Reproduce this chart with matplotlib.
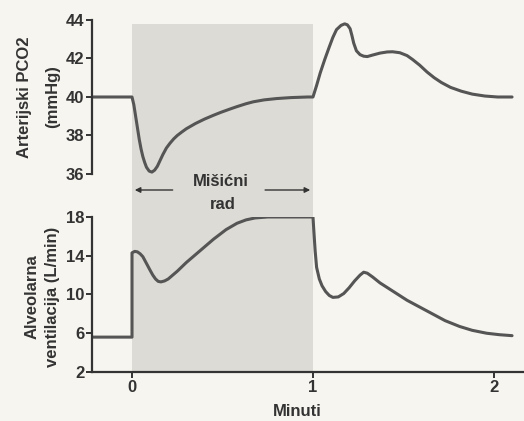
import matplotlib
matplotlib.use('Agg')
import matplotlib.pyplot as plt
from matplotlib import transforms
from matplotlib.patches import Rectangle

# arterial PCO2 (mmHg)
pco2_t = [-0.22, 0.0, 0.01, 0.02, 0.03, 0.04, 0.05, 0.06, 0.07, 0.08, 0.095,
          0.11, 0.125, 0.14, 0.155, 0.17, 0.19, 0.21, 0.23, 0.25, 0.275, 0.30,
          0.35, 0.40, 0.45, 0.49, 0.54, 0.58, 0.63, 0.67, 0.73, 0.80, 0.88,
          0.97, 1.0, 1.02, 1.04, 1.065, 1.09, 1.11, 1.13, 1.155, 1.175, 1.19,
          1.205, 1.215, 1.225, 1.24, 1.26, 1.28, 1.30, 1.33, 1.37, 1.41, 1.44,
          1.48, 1.52, 1.55, 1.59, 1.63, 1.67, 1.71, 1.76, 1.82, 1.88, 1.95,
          2.02, 2.1]
pco2 = [40.0, 40.0, 39.6, 39.0, 38.4, 37.8, 37.3, 36.9, 36.6, 36.35, 36.15,
        36.1, 36.2, 36.4, 36.7, 37.0, 37.35, 37.6, 37.82, 38.0, 38.18, 38.35,
        38.62, 38.85, 39.05, 39.2, 39.37, 39.5, 39.65, 39.75, 39.85, 39.92, 39.97,
        40.0, 40.0, 40.6, 41.25, 41.95, 42.6, 43.1, 43.5, 43.72, 43.8, 43.75,
        43.55, 43.2, 42.8, 42.4, 42.2, 42.12, 42.1, 42.18, 42.28, 42.34, 42.35,
        42.3, 42.15, 41.95, 41.65, 41.3, 41.0, 40.75, 40.5, 40.3, 40.15, 40.05,
        40.0, 40.0]

# alveolar ventilation (L/min)
vent_t = [-0.22, 0.0, 0.0, 0.015, 0.03, 0.045, 0.06, 0.08, 0.10, 0.115, 0.13,
          0.145, 0.16, 0.18, 0.20, 0.25, 0.30, 0.375, 0.45, 0.52, 0.58, 0.63,
          0.68, 0.75, 1.0, 1.005, 1.012, 1.02, 1.035, 1.05, 1.07, 1.09, 1.11,
          1.14, 1.17, 1.20, 1.23, 1.26, 1.28, 1.30, 1.33, 1.37, 1.42, 1.47,
          1.52, 1.59, 1.66, 1.73, 1.81, 1.88, 1.96, 2.03, 2.1]
vent = [5.6, 5.6, 14.3, 14.45, 14.4, 14.2, 13.9, 13.2, 12.5, 12.0, 11.6,
        11.35, 11.3, 11.4, 11.6, 12.4, 13.3, 14.5, 15.7, 16.7, 17.35, 17.7,
        17.9, 18.0, 18.0, 16.5, 14.5, 12.8, 11.6, 10.9, 10.3, 9.9, 9.7,
        9.75, 10.1, 10.7, 11.4, 12.0, 12.3, 12.2, 11.8, 11.2, 10.6, 10.0,
        9.4, 8.7, 8.0, 7.3, 6.7, 6.3, 6.0, 5.85, 5.75]

x_ticks = [0, 1, 2]
pco2_ticks = [36, 38, 40, 42, 44]
vent_ticks = [2, 6, 10, 14, 18]
work_start, work_end = 0, 1

bg = '#f7f5ef'
ink = '#333333'
curve = '#555555'
shade = '#dddbd5'

plt.rcParams['font.family'] = ['Liberation Sans', 'DejaVu Sans']
plt.rcParams['font.size'] = 12
plt.rcParams['font.weight'] = 'bold'
plt.rcParams['axes.labelweight'] = 'bold'

fig = plt.figure(figsize=(5.24, 4.21), dpi=100, facecolor=bg)
ax1 = fig.add_axes([0.1756, 0.5867, 0.8244, 0.3658])
ax2 = fig.add_axes([0.1756, 0.1164, 0.8244, 0.3682])

for ax in (ax1, ax2):
    ax.set_facecolor('none')
    ax.set_xlim(-0.221, 2.166)
    for s in ('top', 'right'):
        ax.spines[s].set_visible(False)
    for s in ('left', 'bottom'):
        ax.spines[s].set_color(ink)
        ax.spines[s].set_linewidth(1.6)
    ax.tick_params(colors=ink, width=1.4, length=4, pad=1.5, labelsize=12)

ax1.spines['bottom'].set_visible(False)
ax1.set_xticks([])
ax1.set_ylim(36, 44)
ax1.set_yticks(pco2_ticks)
ax1.plot(pco2_t, pco2, color=curve, lw=2.2, solid_capstyle='round', solid_joinstyle='round')

ax2.set_ylim(2, 18)
ax2.set_yticks(vent_ticks)
ax2.set_xticks(x_ticks)
ax2.plot(vent_t, vent, color=curve, lw=2.2, solid_capstyle='round', solid_joinstyle='round')

# shaded exercise period spanning both panels
trans = transforms.blended_transform_factory(ax2.transData, fig.transFigure)
fig.add_artist(Rectangle((work_start, 0.1164), work_end - work_start, 0.943 - 0.1164,
                         transform=trans, facecolor=shade, edgecolor='none', zorder=-1))

# "Misicni rad" with arrows
ax2.annotate('', xy=(work_start, 0.5487), xytext=(0.24, 0.5487), xycoords=trans,
             textcoords=trans, annotation_clip=False,
             arrowprops=dict(arrowstyle='-|>', color=ink, lw=1, mutation_scale=8))
ax2.annotate('', xy=(work_end, 0.5487), xytext=(0.72, 0.5487), xycoords=trans,
             textcoords=trans, annotation_clip=False,
             arrowprops=dict(arrowstyle='-|>', color=ink, lw=1, mutation_scale=8))
ax2.text(0.49, 0.5677, 'Mišićni', transform=trans, ha='center', va='center',
         color=ink, fontsize=12)
ax2.text(0.5, 0.5154, 'rad', transform=trans, ha='center', va='center',
         color=ink, fontsize=12)

fig.text(0.0744, 0.7696, 'Arterijski PCO2\n(mmHg)', rotation=90, ha='center',
         va='center', multialignment='center', linespacing=2.1, color=ink)
fig.text(0.080, 0.2945, 'Alveolarna\nventilacija (L/min)', rotation=90, ha='center',
         va='center', multialignment='center', linespacing=1.45, color=ink)

ax2.set_xlabel('Minuti', color=ink, fontsize=12, fontweight='bold')
ax2.xaxis.set_label_coords(0.4745, -0.205)

fig.savefig('out.png', dpi=100, facecolor=bg)
